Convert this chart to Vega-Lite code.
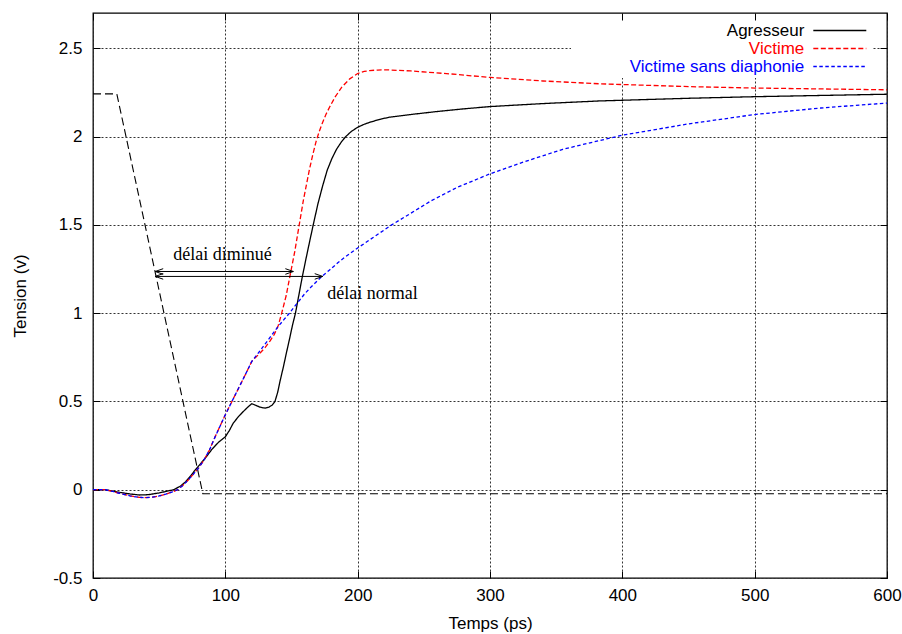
{
  "$schema": "https://vega.github.io/schema/vega-lite/v6.json",
  "width": 794,
  "height": 565,
  "autosize": {"type": "none"},
  "padding": {"left": 93, "top": 13, "right": 15, "bottom": 56},
  "background": "white",
  "config": {
    "view": {"stroke": "black", "strokeWidth": 1.3},
    "font": "Liberation Sans"
  },
  "datasets": {
    "ramp": [
      {"t": 0, "v": 2.242}, {"t": 18, "v": 2.242}, {"t": 83, "v": -0.023}, {"t": 600, "v": -0.023}
    ],
    "series": [
      {"s": "Agresseur", "t": 0, "v": 0}, {"s": "Agresseur", "t": 9, "v": 0}, {"s": "Agresseur", "t": 15, "v": -0.008}, {"s": "Agresseur", "t": 20, "v": -0.015}, {"s": "Agresseur", "t": 28, "v": -0.024}, {"s": "Agresseur", "t": 35, "v": -0.03}, {"s": "Agresseur", "t": 42, "v": -0.028}, {"s": "Agresseur", "t": 50, "v": -0.018}, {"s": "Agresseur", "t": 55, "v": -0.01}, {"s": "Agresseur", "t": 61, "v": 0}, {"s": "Agresseur", "t": 66, "v": 0.02}, {"s": "Agresseur", "t": 70, "v": 0.045}, {"s": "Agresseur", "t": 74, "v": 0.08}, {"s": "Agresseur", "t": 77, "v": 0.11}, {"s": "Agresseur", "t": 81, "v": 0.145}, {"s": "Agresseur", "t": 85, "v": 0.18}, {"s": "Agresseur", "t": 90, "v": 0.23}, {"s": "Agresseur", "t": 95, "v": 0.27}, {"s": "Agresseur", "t": 100, "v": 0.3}, {"s": "Agresseur", "t": 103, "v": 0.335}, {"s": "Agresseur", "t": 106, "v": 0.377}, {"s": "Agresseur", "t": 110, "v": 0.415}, {"s": "Agresseur", "t": 113.6, "v": 0.443}, {"s": "Agresseur", "t": 117, "v": 0.468}, {"s": "Agresseur", "t": 120, "v": 0.487}, {"s": "Agresseur", "t": 123, "v": 0.478}, {"s": "Agresseur", "t": 126, "v": 0.468}, {"s": "Agresseur", "t": 130, "v": 0.462}, {"s": "Agresseur", "t": 133, "v": 0.468}, {"s": "Agresseur", "t": 135.5, "v": 0.48}, {"s": "Agresseur", "t": 137.5, "v": 0.5}, {"s": "Agresseur", "t": 139.5, "v": 0.55}, {"s": "Agresseur", "t": 141.5, "v": 0.62}, {"s": "Agresseur", "t": 144, "v": 0.7}, {"s": "Agresseur", "t": 146, "v": 0.77}, {"s": "Agresseur", "t": 148.4, "v": 0.85}, {"s": "Agresseur", "t": 150.7, "v": 0.93}, {"s": "Agresseur", "t": 153, "v": 1.0}, {"s": "Agresseur", "t": 155, "v": 1.08}, {"s": "Agresseur", "t": 158, "v": 1.2}, {"s": "Agresseur", "t": 161, "v": 1.31}, {"s": "Agresseur", "t": 164, "v": 1.416}, {"s": "Agresseur", "t": 167, "v": 1.52}, {"s": "Agresseur", "t": 170, "v": 1.62}, {"s": "Agresseur", "t": 173.5, "v": 1.72}, {"s": "Agresseur", "t": 177, "v": 1.81}, {"s": "Agresseur", "t": 180.5, "v": 1.875}, {"s": "Agresseur", "t": 184, "v": 1.928}, {"s": "Agresseur", "t": 188, "v": 1.973}, {"s": "Agresseur", "t": 191, "v": 2.0}, {"s": "Agresseur", "t": 195, "v": 2.028}, {"s": "Agresseur", "t": 200, "v": 2.053}, {"s": "Agresseur", "t": 205, "v": 2.07}, {"s": "Agresseur", "t": 210, "v": 2.083}, {"s": "Agresseur", "t": 217, "v": 2.098}, {"s": "Agresseur", "t": 224, "v": 2.11}, {"s": "Agresseur", "t": 240, "v": 2.125}, {"s": "Agresseur", "t": 260, "v": 2.142}, {"s": "Agresseur", "t": 280, "v": 2.157}, {"s": "Agresseur", "t": 300, "v": 2.17}, {"s": "Agresseur", "t": 340, "v": 2.187}, {"s": "Agresseur", "t": 383, "v": 2.202}, {"s": "Agresseur", "t": 450, "v": 2.217}, {"s": "Agresseur", "t": 500, "v": 2.226}, {"s": "Agresseur", "t": 550, "v": 2.233}, {"s": "Agresseur", "t": 600, "v": 2.24},

      {"s": "Victime", "t": 0, "v": 0}, {"s": "Victime", "t": 9, "v": 0}, {"s": "Victime", "t": 15, "v": -0.01}, {"s": "Victime", "t": 20, "v": -0.02}, {"s": "Victime", "t": 28, "v": -0.035}, {"s": "Victime", "t": 35, "v": -0.043}, {"s": "Victime", "t": 39, "v": -0.045}, {"s": "Victime", "t": 45, "v": -0.042}, {"s": "Victime", "t": 50, "v": -0.035}, {"s": "Victime", "t": 55, "v": -0.025}, {"s": "Victime", "t": 60, "v": -0.012}, {"s": "Victime", "t": 64, "v": 0}, {"s": "Victime", "t": 68, "v": 0.025}, {"s": "Victime", "t": 72, "v": 0.055}, {"s": "Victime", "t": 76, "v": 0.09}, {"s": "Victime", "t": 80, "v": 0.125}, {"s": "Victime", "t": 84, "v": 0.17}, {"s": "Victime", "t": 88, "v": 0.225}, {"s": "Victime", "t": 92, "v": 0.295}, {"s": "Victime", "t": 96, "v": 0.36}, {"s": "Victime", "t": 100, "v": 0.425}, {"s": "Victime", "t": 105, "v": 0.5}, {"s": "Victime", "t": 110, "v": 0.575}, {"s": "Victime", "t": 115, "v": 0.65}, {"s": "Victime", "t": 120, "v": 0.727}, {"s": "Victime", "t": 123, "v": 0.75}, {"s": "Victime", "t": 127, "v": 0.78}, {"s": "Victime", "t": 130, "v": 0.805}, {"s": "Victime", "t": 134, "v": 0.845}, {"s": "Victime", "t": 137, "v": 0.88}, {"s": "Victime", "t": 140, "v": 0.93}, {"s": "Victime", "t": 142.6, "v": 1.0}, {"s": "Victime", "t": 146, "v": 1.1}, {"s": "Victime", "t": 149.5, "v": 1.236}, {"s": "Victime", "t": 152.5, "v": 1.35}, {"s": "Victime", "t": 155.2, "v": 1.472}, {"s": "Victime", "t": 159, "v": 1.64}, {"s": "Victime", "t": 163.5, "v": 1.812}, {"s": "Victime", "t": 166, "v": 1.895}, {"s": "Victime", "t": 168.5, "v": 1.97}, {"s": "Victime", "t": 171, "v": 2.03}, {"s": "Victime", "t": 173.5, "v": 2.08}, {"s": "Victime", "t": 176, "v": 2.125}, {"s": "Victime", "t": 179, "v": 2.17}, {"s": "Victime", "t": 183, "v": 2.225}, {"s": "Victime", "t": 188, "v": 2.28}, {"s": "Victime", "t": 194, "v": 2.327}, {"s": "Victime", "t": 200, "v": 2.357}, {"s": "Victime", "t": 205, "v": 2.369}, {"s": "Victime", "t": 209, "v": 2.374}, {"s": "Victime", "t": 215, "v": 2.377}, {"s": "Victime", "t": 222, "v": 2.378}, {"s": "Victime", "t": 240, "v": 2.372}, {"s": "Victime", "t": 270, "v": 2.355}, {"s": "Victime", "t": 300, "v": 2.335}, {"s": "Victime", "t": 340, "v": 2.315}, {"s": "Victime", "t": 383, "v": 2.299}, {"s": "Victime", "t": 450, "v": 2.283}, {"s": "Victime", "t": 500, "v": 2.275}, {"s": "Victime", "t": 550, "v": 2.27}, {"s": "Victime", "t": 600, "v": 2.265},

      {"s": "Victime sans diaphonie", "t": 0, "v": 0}, {"s": "Victime sans diaphonie", "t": 9, "v": 0}, {"s": "Victime sans diaphonie", "t": 15, "v": -0.01}, {"s": "Victime sans diaphonie", "t": 20, "v": -0.02}, {"s": "Victime sans diaphonie", "t": 28, "v": -0.035}, {"s": "Victime sans diaphonie", "t": 35, "v": -0.043}, {"s": "Victime sans diaphonie", "t": 39, "v": -0.045}, {"s": "Victime sans diaphonie", "t": 45, "v": -0.042}, {"s": "Victime sans diaphonie", "t": 50, "v": -0.035}, {"s": "Victime sans diaphonie", "t": 55, "v": -0.025}, {"s": "Victime sans diaphonie", "t": 60, "v": -0.012}, {"s": "Victime sans diaphonie", "t": 64, "v": 0}, {"s": "Victime sans diaphonie", "t": 68, "v": 0.025}, {"s": "Victime sans diaphonie", "t": 72, "v": 0.055}, {"s": "Victime sans diaphonie", "t": 76, "v": 0.09}, {"s": "Victime sans diaphonie", "t": 80, "v": 0.125}, {"s": "Victime sans diaphonie", "t": 84, "v": 0.17}, {"s": "Victime sans diaphonie", "t": 88, "v": 0.225}, {"s": "Victime sans diaphonie", "t": 92, "v": 0.295}, {"s": "Victime sans diaphonie", "t": 96, "v": 0.36}, {"s": "Victime sans diaphonie", "t": 100, "v": 0.425}, {"s": "Victime sans diaphonie", "t": 105, "v": 0.5}, {"s": "Victime sans diaphonie", "t": 110, "v": 0.575}, {"s": "Victime sans diaphonie", "t": 115, "v": 0.65}, {"s": "Victime sans diaphonie", "t": 120, "v": 0.727}, {"s": "Victime sans diaphonie", "t": 125, "v": 0.775}, {"s": "Victime sans diaphonie", "t": 130, "v": 0.825}, {"s": "Victime sans diaphonie", "t": 135, "v": 0.875}, {"s": "Victime sans diaphonie", "t": 140, "v": 0.925}, {"s": "Victime sans diaphonie", "t": 145, "v": 0.97}, {"s": "Victime sans diaphonie", "t": 148.5, "v": 1.0}, {"s": "Victime sans diaphonie", "t": 152, "v": 1.035}, {"s": "Victime sans diaphonie", "t": 156.4, "v": 1.076}, {"s": "Victime sans diaphonie", "t": 160, "v": 1.11}, {"s": "Victime sans diaphonie", "t": 165, "v": 1.15}, {"s": "Victime sans diaphonie", "t": 173, "v": 1.208}, {"s": "Victime sans diaphonie", "t": 179, "v": 1.246}, {"s": "Victime sans diaphonie", "t": 185, "v": 1.285}, {"s": "Victime sans diaphonie", "t": 190, "v": 1.315}, {"s": "Victime sans diaphonie", "t": 200, "v": 1.369}, {"s": "Victime sans diaphonie", "t": 212, "v": 1.43}, {"s": "Victime sans diaphonie", "t": 225.7, "v": 1.5}, {"s": "Victime sans diaphonie", "t": 240, "v": 1.565}, {"s": "Victime sans diaphonie", "t": 254.7, "v": 1.633}, {"s": "Victime sans diaphonie", "t": 275, "v": 1.712}, {"s": "Victime sans diaphonie", "t": 300, "v": 1.789}, {"s": "Victime sans diaphonie", "t": 325, "v": 1.855}, {"s": "Victime sans diaphonie", "t": 355, "v": 1.928}, {"s": "Victime sans diaphonie", "t": 383, "v": 1.978}, {"s": "Victime sans diaphonie", "t": 400, "v": 2.008}, {"s": "Victime sans diaphonie", "t": 450, "v": 2.072}, {"s": "Victime sans diaphonie", "t": 500, "v": 2.125}, {"s": "Victime sans diaphonie", "t": 550, "v": 2.162}, {"s": "Victime sans diaphonie", "t": 600, "v": 2.19}
    ],
    "arrows": [
      {"name": "diminué", "t1": 47, "t2": 151.4, "v": 1.236},
      {"name": "normal", "t1": 47, "t2": 173.6, "v": 1.208}
    ],
    "notes": [
      {"label": "délai diminué", "t": 60.7, "v": 1.302},
      {"label": "délai normal", "t": 177, "v": 1.082}
    ]
  },
  "layer": [
    {
      "data": {"name": "ramp"},
      "mark": {"type": "line", "color": "black", "strokeWidth": 1.1, "strokeDash": [8, 4]},
      "encoding": {
        "x": {"field": "t", "type": "quantitative", "scale": {"domain": [0, 600], "nice": false},
          "axis": {"orient": "top", "labels": false, "grid": false, "domain": false, "ticks": true, "tickSize": -7, "tickColor": "black", "tickWidth": 1, "values": [0, 100, 200, 300, 400, 500, 600], "title": null, "zindex": 3}},
        "y": {"field": "v", "type": "quantitative", "scale": {"domain": [-0.5, 2.7], "nice": false, "zero": false},
          "axis": {"orient": "right", "labels": false, "grid": false, "domain": false, "ticks": true, "tickSize": -7, "tickColor": "black", "tickWidth": 1, "values": [-0.5, 0, 0.5, 1, 1.5, 2, 2.5], "title": null, "zindex": 3}}
      }
    },
    {
      "data": {"name": "series"},
      "mark": {"type": "line", "strokeWidth": 1.3},
      "encoding": {
        "x": {"field": "t", "type": "quantitative", "scale": {"domain": [0, 600], "nice": false},
          "axis": {"orient": "bottom", "grid": true, "gridColor": "#333", "gridDash": [2, 2], "gridWidth": 1, "domain": false, "tickSize": -7, "tickColor": "black", "tickWidth": 1, "labelPadding": 16, "labelFontSize": 17, "labelFont": "Liberation Sans", "labelColor": "black", "values": [0, 100, 200, 300, 400, 500, 600], "labelFlush": false, "title": "Temps (ps)", "titleFontSize": 17, "titleFont": "Liberation Sans", "titleFontWeight": "normal", "titleColor": "black", "titleY": 50, "titleBaseline": "alphabetic", "zindex": 0}},
        "y": {"field": "v", "type": "quantitative", "scale": {"domain": [-0.5, 2.7], "nice": false, "zero": false},
          "axis": {"orient": "left", "grid": true, "gridColor": "#333", "gridDash": [2, 2], "gridWidth": 1, "domain": false, "tickSize": -7, "tickColor": "black", "tickWidth": 1, "labelPadding": 18, "labelFontSize": 17, "labelFont": "Liberation Sans", "labelColor": "black", "values": [-0.5, 0, 0.5, 1, 1.5, 2, 2.5], "labelFlush": false, "labelExpr": "datum.value < 0 ? '-' + format(-datum.value, '~g') : format(datum.value, '~g')", "title": "Tension (v)", "titleFontSize": 17, "titleFont": "Liberation Sans", "titleFontWeight": "normal", "titleColor": "black", "titleAngle": -90, "titleX": -73, "titleY": 282.5, "titleBaseline": "middle", "titleAlign": "center", "zindex": 0}},
        "color": {"field": "s", "type": "nominal",
          "scale": {"domain": ["Agresseur", "Victime", "Victime sans diaphonie"], "range": ["#000000", "#ff0000", "#0000ff"]},
          "legend": {"orient": "none", "legendX": 478, "legendY": 5, "title": null, "direction": "vertical", "symbolType": "M-3,0H3", "symbolSize": 312, "symbolStrokeWidth": 1.3, "symbolOffset": 256.3, "labelAlign": "right", "labelBaseline": "middle", "labelOffset": -45, "labelFontSize": 17, "labelFont": "Liberation Sans", "labelLimit": 400, "rowPadding": 0, "padding": 3, "fillColor": "white", "zindex": 1,
            "encode": {"labels": {"update": {"fill": {"signal": "datum.label === 'Victime' ? '#ff0000' : datum.label === 'Agresseur' ? '#000000' : '#0000ff'"}}}}}},
        "strokeDash": {"field": "s", "type": "nominal",
          "scale": {"domain": ["Agresseur", "Victime", "Victime sans diaphonie"], "range": [[1, 0], [5, 2.5], [3.5, 2.5]]}}
      }
    },
    {
      "data": {"name": "arrows"},
      "mark": {"type": "rule", "color": "black", "strokeWidth": 1},
      "encoding": {
        "x": {"field": "t1", "type": "quantitative", "axis": null},
        "x2": {"field": "t2"},
        "y": {"field": "v", "type": "quantitative", "axis": null}
      }
    },
    {
      "data": {"name": "arrows"},
      "mark": {"type": "point", "shape": "M1,-0.35L0,0L1,0.35", "filled": false, "stroke": "black", "strokeWidth": 1, "size": 256, "opacity": 1},
      "encoding": {
        "x": {"field": "t1", "type": "quantitative", "axis": null},
        "y": {"field": "v", "type": "quantitative", "axis": null}
      }
    },
    {
      "data": {"name": "arrows"},
      "mark": {"type": "point", "shape": "M-1,-0.35L0,0L-1,0.35", "filled": false, "stroke": "black", "strokeWidth": 1, "size": 256, "opacity": 1},
      "encoding": {
        "x": {"field": "t2", "type": "quantitative", "axis": null},
        "y": {"field": "v", "type": "quantitative", "axis": null}
      }
    },
    {
      "data": {"name": "notes"},
      "mark": {"type": "text", "font": "Liberation Serif", "fontSize": 18, "align": "left", "baseline": "alphabetic", "color": "black"},
      "encoding": {
        "x": {"field": "t", "type": "quantitative", "axis": null},
        "y": {"field": "v", "type": "quantitative", "axis": null},
        "text": {"field": "label"}
      }
    }
  ],
  "resolve": {"axis": {"x": "independent", "y": "independent"}}
}
